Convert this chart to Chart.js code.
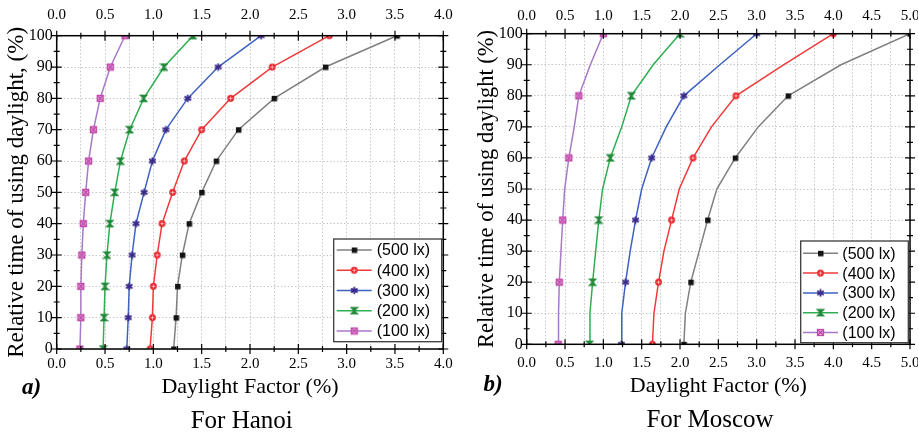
<!DOCTYPE html>
<html>
<head>
<meta charset="utf-8">
<script src="https://cdn.jsdelivr.net/npm/chart.js@4.4.1/dist/chart.umd.min.js"></script>
<style>
  body { margin: 0; background: #fff; }
  #wrap { position: relative; width: 918px; height: 438px; }
  #wrap canvas { position: absolute; top: 0; }
  #hanoi { left: 0; }
  #moscow { left: 459px; }
</style>
</head>
<body>
<div id="wrap">
  <canvas id="hanoi" width="459" height="438"></canvas>
  <canvas id="moscow" width="459" height="438"></canvas>
</div>
<script>
// relative time of using daylight (%), shared by every curve
var timeSteps = [0, 10, 20, 30, 40, 50, 60, 70, 80, 90, 100];
var seriesLabels = ['(500 lx)', '(400 lx)', '(300 lx)', '(200 lx)', '(100 lx)'];

// daylight factor (%) per illuminance level - Hanoi
var hanoi500 = [1.21, 1.235, 1.25, 1.30, 1.37, 1.50, 1.65, 1.88, 2.25, 2.78, 3.52];
var hanoi400 = [0.966, 0.99, 1.00, 1.04, 1.09, 1.20, 1.32, 1.50, 1.80, 2.23, 2.82];
var hanoi300 = [0.725, 0.74, 0.75, 0.78, 0.82, 0.904, 0.99, 1.13, 1.356, 1.67, 2.115];
var hanoi200 = [0.48, 0.49, 0.50, 0.52, 0.55, 0.60, 0.66, 0.755, 0.90, 1.11, 1.41];
var hanoi100 = [0.24, 0.25, 0.25, 0.26, 0.275, 0.30, 0.33, 0.38, 0.45, 0.555, 0.707];

// daylight factor (%) per illuminance level - Moscow
var moscow500 = [2.05, 2.07, 2.14, 2.25, 2.36, 2.48, 2.72, 3.02, 3.41, 4.1, 5.0];
var moscow400 = [1.64, 1.66, 1.72, 1.79, 1.89, 1.99, 2.17, 2.41, 2.73, 3.35, 4.0];
var moscow300 = [1.235, 1.24, 1.29, 1.35, 1.42, 1.50, 1.63, 1.82, 2.05, 2.52, 3.0];
var moscow200 = [0.82, 0.825, 0.86, 0.90, 0.94, 0.99, 1.09, 1.24, 1.365, 1.65, 2.0];
var moscow100 = [0.41, 0.415, 0.425, 0.447, 0.47, 0.495, 0.55, 0.62, 0.68, 0.83, 1.0];

// axis tick labels
var hanoiDFTicks = [0.0, 0.5, 1.0, 1.5, 2.0, 2.5, 3.0, 3.5, 4.0];
var moscowDFTicks = [0.0, 0.5, 1.0, 1.5, 2.0, 2.5, 3.0, 3.5, 4.0, 4.5, 5.0];
var timeTicks = [0, 10, 20, 30, 40, 50, 60, 70, 80, 90, 100];

var SERIF = "'Liberation Serif', 'Times New Roman', serif";
var SANS = "'Liberation Sans', Arial, sans-serif";
var lineColors = ['#808080', '#f03a3a', '#3f62c0', '#2fae52', '#a878c8'];
var markColors = ['#141414', '#e8202a', '#3a2a8c', '#23883b', '#c24aaa'];
var markKinds = ['square', 'circle', 'star', 'hourglass', 'boxX'];
var gridColor = '#c6c6c6';

function makeMarker(kind, color) {
    var c = document.createElement('canvas');
    c.width = 9;
    c.height = 9;
    var g = c.getContext('2d');
    g.fillStyle = color;
    g.strokeStyle = color;
    g.lineWidth = 1.3;
    if (kind === 'square') {
        g.fillRect(2, 2, 5.5, 5.5);
    } else if (kind === 'circle') {
        g.beginPath();
        g.arc(4.5, 4.5, 3.4, 0, Math.PI * 2);
        g.fill();
        g.strokeStyle = 'rgba(255,190,190,0.9)';
        g.lineWidth = 1;
        g.beginPath();
        g.moveTo(2.5, 4.5); g.lineTo(6.5, 4.5);
        g.moveTo(4.5, 2.5); g.lineTo(4.5, 6.5);
        g.stroke();
    } else if (kind === 'star') {
        g.lineWidth = 1.8;
        g.beginPath();
        for (var k = 0; k < 3; k++) {
            var ang = Math.PI / 2 + k * Math.PI / 3;
            g.moveTo(4.5 + Math.cos(ang) * 3.8, 4.5 + Math.sin(ang) * 3.8);
            g.lineTo(4.5 - Math.cos(ang) * 3.8, 4.5 - Math.sin(ang) * 3.8);
        }
        g.stroke();
    } else if (kind === 'hourglass') {
        g.beginPath();
        g.moveTo(1.5, 1.5); g.lineTo(7.5, 1.5); g.lineTo(1.5, 7.5); g.lineTo(7.5, 7.5);
        g.closePath();
        g.fill();
        g.stroke();
    } else {
        g.fillStyle = 'rgba(230,150,215,0.7)';
        g.fillRect(1.5, 1.5, 6, 6);
        g.strokeRect(1.5, 1.5, 6, 6);
        g.beginPath();
        g.moveTo(1.5, 1.5); g.lineTo(7.5, 7.5);
        g.moveTo(7.5, 1.5); g.lineTo(1.5, 7.5);
        g.stroke();
    }
    return c;
}

var markers = markKinds.map(function (k, i) { return makeMarker(k, markColors[i]); });

function buildDatasets(seriesList, markEvery) {
    return seriesList.map(function (vals, i) {
        return {
            label: seriesLabels[i],
            data: vals.map(function (v, k) { return { x: v, y: timeSteps[k] }; }),
            borderColor: lineColors[i],
            backgroundColor: lineColors[i],
            borderWidth: 1.5,
            showLine: true,
            tension: 0,
            fill: false,
            pointStyle: markers[i],
            pointRadius: function (c) { return c.dataIndex % markEvery === 0 ? 4 : 0; },
            pointHoverRadius: 4
        };
    });
}

// frame, in/out tick marks, legend box and captions
function decorPlugin(g) {
    return {
        id: 'decor',
        afterDraw: function (chart) {
            var ctx = chart.ctx, a = chart.chartArea;
            var sx = chart.scales.x, sy = chart.scales.y;
            ctx.save();
            ctx.strokeStyle = '#000';
            ctx.lineWidth = 1.2;
            ctx.beginPath();
            sx.ticks.forEach(function (t) {
                var p = sx.getPixelForValue(t.value);
                var major = t.label !== '';
                var o = major ? 5 : 3, n = major ? 5 : 3;
                ctx.moveTo(p, a.bottom - n); ctx.lineTo(p, a.bottom + o);
                ctx.moveTo(p, a.top - o); ctx.lineTo(p, a.top + n);
            });
            sy.ticks.forEach(function (t) {
                var p = sy.getPixelForValue(t.value);
                var major = t.label !== '';
                var o = major ? 5 : 3, n = major ? 5 : 3;
                ctx.moveTo(a.left - o, p); ctx.lineTo(a.left + n, p);
                ctx.moveTo(a.right - n, p); ctx.lineTo(a.right + o, p);
            });
            ctx.stroke();
            ctx.lineWidth = 1.5;
            ctx.strokeRect(a.left, a.top, a.right - a.left, a.bottom - a.top);

            // legend
            var L = g.legend;
            ctx.fillStyle = '#fff';
            ctx.fillRect(L.x, L.y, L.w, L.h);
            ctx.strokeStyle = '#3a3a3a';
            ctx.lineWidth = 1.3;
            ctx.strokeRect(L.x, L.y, L.w, L.h);
            ctx.font = '16px ' + SANS;
            ctx.textBaseline = 'middle';
            ctx.textAlign = 'left';
            chart.data.datasets.forEach(function (ds, i) {
                var y = L.y + L.row0 + i * L.rowStep;
                ctx.strokeStyle = ds.borderColor;
                ctx.lineWidth = 1.5;
                ctx.beginPath();
                ctx.moveTo(L.x + L.line0, y);
                ctx.lineTo(L.x + L.line0 + 35, y);
                ctx.stroke();
                var m = ds.pointStyle;
                ctx.drawImage(m, L.x + L.line0 + 17.5 - m.width / 2, y - m.height / 2);
                ctx.fillStyle = '#000';
                ctx.fillText(ds.label, L.x + L.text0, y + 1);
            });

            // captions under the axis
            ctx.textAlign = 'center';
            g.captions.forEach(function (c) {
                ctx.font = c.font;
                ctx.fillStyle = '#000';
                ctx.fillText(c.text, c.x, c.y);
            });
            ctx.restore();
        }
    };
}

function makeChart(id, datasets, dfTicks, yTitle, g) {
    var dfMin = dfTicks[0], dfMax = dfTicks[dfTicks.length - 1];
    var dfLabel = function (v) { return dfTicks.indexOf(v) >= 0 ? v.toFixed(1) : ''; };
    var timeLabel = function (v) { return timeTicks.indexOf(v) >= 0 ? String(v) : ''; };
    var tickFontX = { family: SERIF, size: 15 };
    var tickFontY = { family: SERIF, size: 16 };

    return new Chart(document.getElementById(id).getContext('2d'), {
        type: 'scatter',
        data: { datasets: datasets },
        options: {
            responsive: false,
            animation: false,
            events: [],
            layout: { padding: g.pad },
            plugins: {
                legend: { display: false },
                tooltip: { enabled: false }
            },
            scales: {
                x: {
                    type: 'linear', position: 'bottom', min: dfMin, max: dfMax,
                    ticks: { stepSize: 0.25, autoSkip: false, maxRotation: 0, padding: g.bottomPad,
                             color: '#000', font: tickFontX, callback: dfLabel },
                    grid: { color: gridColor, lineWidth: 1, drawTicks: false },
                    border: { display: false, dash: [1.5, 2] },
                    title: { display: true, text: 'Daylight Factor (%)', color: '#000',
                             font: { family: SERIF, size: 22 }, padding: 0 },
                    afterFit: function (s) { s.height = g.bottomH; s.paddingLeft = 0; s.paddingRight = 0; }
                },
                x2: {
                    type: 'linear', position: 'top', min: dfMin, max: dfMax,
                    ticks: { stepSize: 0.25, autoSkip: false, maxRotation: 0, padding: g.topPad,
                             color: '#000', font: tickFontX, callback: dfLabel },
                    grid: { display: false, drawTicks: false },
                    border: { display: false },
                    afterFit: function (s) { s.height = g.topH; s.paddingLeft = 0; s.paddingRight = 0; }
                },
                y: {
                    type: 'linear', position: 'left', min: 0, max: 100,
                    ticks: { stepSize: 5, autoSkip: false, padding: 4,
                             color: '#000', font: tickFontY, callback: timeLabel },
                    grid: {
                        color: function (c) { return c.tick && c.tick.value % 10 === 0 ? gridColor : 'rgba(0,0,0,0)'; },
                        lineWidth: 1, drawTicks: false
                    },
                    border: { display: false, dash: [1.5, 2] },
                    title: { display: true, text: yTitle, color: '#000',
                             font: { family: SERIF, size: g.yTitleSize }, padding: { top: 3, bottom: 0 } },
                    afterFit: function (s) { s.width = g.leftW; s.paddingTop = 0; s.paddingBottom = 0; }
                },
                y2: {
                    type: 'linear', position: 'right', min: 0, max: 100,
                    ticks: { display: false, stepSize: 10 },
                    grid: { display: false, drawTicks: false },
                    border: { display: false },
                    afterFit: function (s) { s.width = g.rightW; s.paddingTop = 0; s.paddingBottom = 0; }
                }
            }
        },
        plugins: [decorPlugin(g)]
    });
}

makeChart('hanoi',
    buildDatasets([hanoi500, hanoi400, hanoi300, hanoi200, hanoi100], 1),
    hanoiDFTicks,
    'Relative time of using daylight, (%)',
    {
        pad: { left: 0, top: 0, right: 0, bottom: 37.8 },
        leftW: 56.7, rightW: 15.7, topH: 35.7, bottomH: 51.2,
        topPad: 11.7, bottomPad: 6, yTitleSize: 23,
        legend: { x: 333.7, y: 239, w: 108, h: 102.7, row0: 11, rowStep: 20.25, line0: 3, text0: 43 },
        captions: [
            { text: 'a)', x: 31.7, y: 388, font: 'italic bold 23px ' + SERIF },
            { text: 'For Hanoi', x: 241.7, y: 421.7, font: '25px ' + SERIF }
        ]
    });

makeChart('moscow',
    buildDatasets([moscow500, moscow400, moscow300, moscow200, moscow100], 2),
    moscowDFTicks,
    'Relative time of using daylight (%)',
    {
        pad: { left: 11.5, top: 0, right: 0, bottom: 38.1 },
        leftW: 56.2, rightW: 8, topH: 33.7, bottomH: 55.6,
        topPad: 8.7, bottomPad: 9.4, yTitleSize: 22.5,
        legend: { x: 341.7, y: 241, w: 107.6, h: 101.7, row0: 12.3, rowStep: 19.8, line0: 2.3, text0: 41.6 },
        captions: [
            { text: 'b)', x: 34, y: 385, font: 'italic bold 23px ' + SERIF },
            { text: 'For Moscow', x: 251, y: 420, font: '25px ' + SERIF }
        ]
    });
</script>
</body>
</html>
